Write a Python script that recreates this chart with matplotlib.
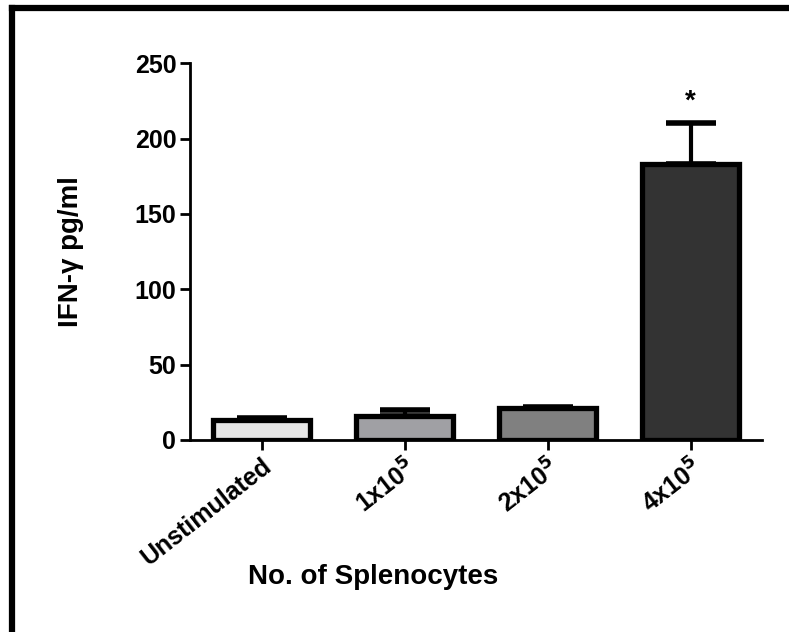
import matplotlib
matplotlib.use("Agg")
import matplotlib.pyplot as plt
from matplotlib.lines import Line2D

# data
groups = ["Unstimulated", "1x10$^{5}$", "2x10$^{5}$", "4x10$^{5}$"]
ifn_gamma = [13.5, 16, 21, 183]
sem = [1, 3.5, 1, 27]
colors = ["#E6E6E6", "#A0A0A4", "#808080", "#333333"]

plt.rcParams['font.family'] = ['Liberation Sans', 'DejaVu Sans']
plt.rcParams['font.weight'] = 'bold'
plt.rcParams['mathtext.default'] = 'bf'

fig = plt.figure(figsize=(7.89, 6.32), dpi=100)
ax = fig.add_axes([0.241, 0.304, 0.725, 0.596])

x = range(len(groups))
ax.bar(x, ifn_gamma, width=0.68, color=colors, edgecolor='black', linewidth=3.8, zorder=3)
# upward-only error bars
ax.errorbar(x, ifn_gamma, yerr=[[0] * len(sem), sem], fmt='none', ecolor='black',
            elinewidth=3, capsize=18, capthick=4, zorder=2)

ax.text(3, 216, "*", ha='center', va='bottom', fontsize=20, fontweight='bold')

ax.set_xlim(-0.5, 3.5)
ax.set_ylim(0, 250)
ax.set_yticks([0, 50, 100, 150, 200, 250])
ax.set_xticks(list(x))
ax.set_xticklabels(groups, rotation=38, ha='right', rotation_mode='anchor')

for side in ['top', 'right']:
    ax.spines[side].set_visible(False)
for side in ['left', 'bottom']:
    ax.spines[side].set_linewidth(2)
ax.tick_params(axis='both', width=2, length=7, pad=3)
ax.tick_params(axis='y', labelsize=18)
ax.tick_params(axis='x', labelsize=18)
for lbl in ax.get_xticklabels() + ax.get_yticklabels():
    lbl.set_fontweight('bold')

ax.set_xlabel("No. of Splenocytes", fontsize=20, fontweight='bold')
ax.xaxis.set_label_coords(0.32, -0.33)
ax.set_ylabel("IFN-\u03b3 pg/ml", fontsize=20, fontweight='bold')
ax.yaxis.set_label_coords(-0.185, 0.5)

# partial black frame (top and left edges)
fig.add_artist(Line2D([0.015, 1.0], [0.988, 0.988], color='black', linewidth=4.5,
                      transform=fig.transFigure))
fig.add_artist(Line2D([0.015, 0.015], [0.0, 0.988], color='black', linewidth=4.5,
                      transform=fig.transFigure))

fig.savefig("out.png", dpi=100)
